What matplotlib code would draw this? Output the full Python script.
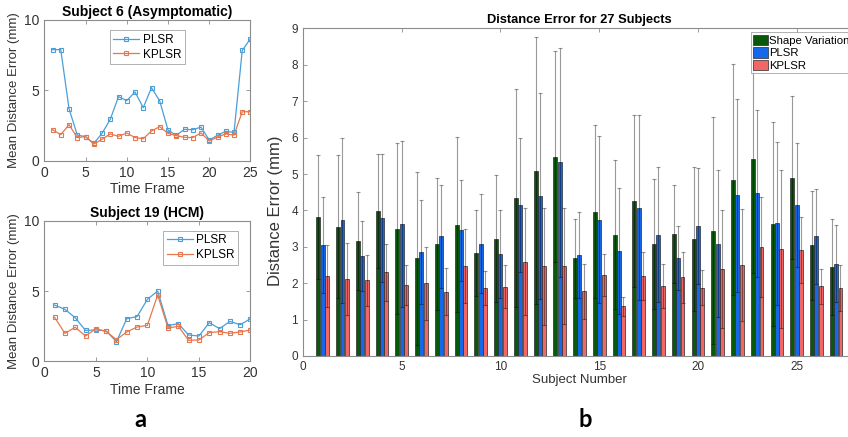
import numpy as np
import matplotlib
matplotlib.use("Agg")
import matplotlib.pyplot as plt

plt.rcParams['font.family'] = ['Liberation Sans', 'DejaVu Sans']

# --- panel a: per-frame mean distance error ---
frames_s6 = list(range(1, 26))
plsr_s6 = [7.89, 7.89, 3.70, 1.82, 1.71, 1.23, 1.94, 2.94, 4.55, 4.27, 4.88, 3.77, 5.19,
           4.24, 2.18, 1.80, 2.23, 2.20, 2.39, 1.47, 1.80, 2.09, 2.01, 7.84, 8.67]
kplsr_s6 = [2.20, 1.85, 2.56, 1.64, 1.71, 1.18, 1.52, 1.90, 1.73, 1.97, 1.64, 1.56, 2.11,
            2.42, 1.94, 1.78, 1.66, 1.64, 1.97, 1.40, 1.68, 1.90, 1.82, 3.48, 3.48]

frames_s19 = list(range(1, 21))
plsr_s19 = [4.00, 3.70, 3.10, 2.20, 2.23, 2.16, 1.40, 3.03, 3.18, 4.41, 5.00, 2.54, 2.68,
            1.87, 1.80, 2.75, 2.32, 2.84, 2.60, 3.03]
kplsr_s19 = [3.13, 1.99, 2.42, 1.80, 2.32, 2.13, 1.54, 2.09, 2.44, 2.56, 4.72, 2.37, 2.49,
             1.49, 1.52, 2.04, 2.11, 1.99, 2.09, 2.23]

# --- panel b: mean and std of distance error per subject ---
subjects = np.arange(1, 28)
shape_mean = [3.82, 3.55, 3.16, 3.98, 3.50, 2.68, 3.08, 3.61, 2.83, 3.22, 4.34, 5.09, 5.47, 2.68,
              3.97, 3.33, 4.26, 3.08, 3.35, 3.21, 3.44, 4.85, 5.41, 3.63, 4.90, 3.04, 2.44]
shape_std = [1.71, 1.97, 1.34, 1.56, 2.35, 2.37, 1.81, 2.41, 1.18, 1.74, 2.99, 3.67, 2.90, 1.08,
             2.37, 2.05, 2.36, 1.78, 1.34, 1.98, 3.12, 3.17, 3.13, 2.81, 2.24, 1.49, 1.32]
plsr_mean = [3.05, 3.73, 2.74, 3.79, 3.62, 2.86, 3.29, 3.45, 3.09, 2.80, 4.16, 4.40, 5.32, 2.78,
             3.75, 2.88, 4.08, 3.33, 2.69, 3.58, 3.09, 4.42, 4.47, 3.65, 4.15, 3.29, 2.54]
plsr_std = [1.33, 2.27, 0.96, 1.76, 2.28, 1.44, 1.42, 1.39, 1.37, 1.20, 1.84, 2.83, 3.15, 1.18,
            2.30, 1.74, 2.55, 1.85, 0.88, 1.59, 2.03, 2.65, 2.29, 2.24, 1.70, 1.30, 1.06]
kplsr_mean = [2.20, 2.11, 2.08, 2.30, 1.95, 2.00, 1.77, 2.47, 1.87, 1.90, 2.59, 2.46, 2.48, 1.78,
              2.22, 1.36, 2.20, 1.92, 2.16, 1.87, 2.39, 2.50, 3.00, 2.94, 2.91, 1.91, 1.87]
kplsr_std = [0.85, 0.99, 0.70, 0.78, 0.54, 1.00, 0.64, 1.01, 0.46, 0.59, 1.47, 1.61, 1.60, 0.76,
             0.58, 0.27, 0.67, 0.61, 0.70, 0.48, 1.63, 1.53, 1.38, 2.18, 0.91, 0.48, 0.63]

blue_line = '#4a9fd8'
orange_line = '#e5784f'
axis_gray = '#8c8c8c'
text_gray = '#333333'

fig = plt.figure(figsize=(8.48, 4.37), dpi=100)


def style_axes(ax, tick_size):
    for sp in ax.spines.values():
        sp.set_color(axis_gray)
        sp.set_linewidth(0.8)
    ax.tick_params(direction='in', top=True, right=True, length=3, width=0.6,
                   colors=axis_gray, labelcolor=text_gray, labelsize=tick_size)


def line_panel(rect, frames, plsr, kplsr, title, xmax, legend_loc, legend_anchor):
    ax = fig.add_axes(rect)
    ax.plot(frames, plsr, '-s', color=blue_line, lw=0.9, ms=3.5, mfc='none', mew=0.8, label='PLSR')
    ax.plot(frames, kplsr, '-s', color=orange_line, lw=0.9, ms=3.5, mfc='none', mew=0.8, label='KPLSR')
    ax.set_xlim(0, xmax)
    ax.set_ylim(0, 10)
    ax.set_xticks(range(0, xmax + 1, 5))
    ax.set_yticks([0, 5, 10])
    style_axes(ax, 10)
    ax.set_title(title, fontsize=10, fontweight='bold', pad=3)
    ax.set_xlabel('Time Frame', fontsize=10, color=text_gray, labelpad=2)
    ax.set_ylabel('Mean Distance Error (mm)', fontsize=9.5, color=text_gray, labelpad=3)
    leg = ax.legend(loc=legend_loc, bbox_to_anchor=legend_anchor, fontsize=8.5, frameon=True,
                    fancybox=False, edgecolor=axis_gray, handlelength=2.2, borderpad=0.3,
                    labelspacing=0.25, handletextpad=0.3)
    leg.get_frame().set_linewidth(0.6)
    return ax


line_panel([0.0522, 0.6323, 0.2432, 0.322], frames_s6, plsr_s6, kplsr_s6,
           'Subject 6 (Asymptomatic)', 25, 'upper center', (0.5, 0.97))
line_panel([0.0522, 0.1732, 0.2432, 0.3217], frames_s19, plsr_s19, kplsr_s19,
           'Subject 19 (HCM)', 20, 'upper right', (0.97, 0.97))

# grouped bars, axes runs past the right border of the figure
ax = fig.add_axes([0.3573, 0.1854, 0.652, 0.7494])
w = 0.2
offsets = [-0.22, 0.0, 0.22]
series = [(shape_mean, shape_std, '#0a580a', 'Shape Variation'),
          (plsr_mean, plsr_std, '#1668ea', 'PLSR'),
          (kplsr_mean, kplsr_std, '#f26666', 'KPLSR')]
for off, (m, s, c, lab) in zip(offsets, series):
    ax.bar(subjects + off, m, width=w, color=c, edgecolor='#2a2a2a', linewidth=0.5, label=lab, zorder=2)
    ax.errorbar(subjects + off, m, yerr=s, fmt='none', ecolor='k', alpha=0.4,
                elinewidth=0.8, capsize=1.6, capthick=0.8, zorder=3)

ax.set_xlim(0, 28)
ax.set_ylim(0, 9)
ax.set_xticks(range(0, 26, 5))
ax.set_yticks(range(0, 10))
style_axes(ax, 8.5)
ax.set_title('Distance Error for 27 Subjects', fontsize=9.3, fontweight='bold', pad=4)
ax.set_xlabel('Subject Number', fontsize=9.5, color=text_gray, labelpad=1)
ax.set_ylabel('Distance Error (mm)', fontsize=12, color=text_gray)
ax.yaxis.set_label_coords(-0.036, 0.443)
leg = ax.legend(loc='upper left', bbox_to_anchor=(0.81, 0.988), fontsize=8.2, frameon=True,
                fancybox=False, edgecolor=axis_gray, handlelength=1.3, handleheight=1.0,
                borderpad=0.2, labelspacing=0.15, handletextpad=0.1, borderaxespad=0.0)
leg.get_frame().set_linewidth(0.6)

fig.text(0.165, 0.04, 'a', fontsize=17, fontweight='bold', family=['Lato', 'DejaVu Sans'],
         ha='center', va='center')
fig.text(0.69, 0.04, 'b', fontsize=17, fontweight='bold', family=['Lato', 'DejaVu Sans'],
         ha='center', va='center')

fig.savefig('out.png', dpi=100)
